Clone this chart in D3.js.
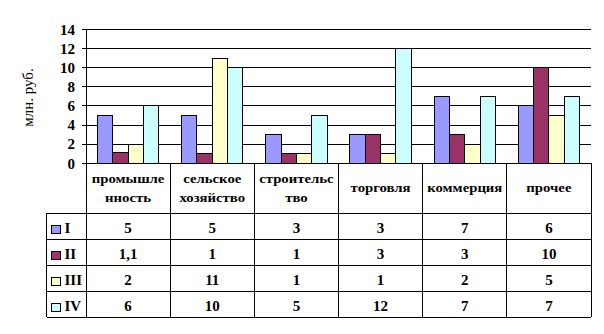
<!DOCTYPE html>
<html><head><meta charset="utf-8">
<script src="https://cdn.jsdelivr.net/npm/d3@7"></script>
<style>
html,body{margin:0;padding:0;background:#fff;}
svg{display:block;font-family:"Liberation Serif","Times New Roman",serif;}
</style></head>
<body>
<svg id="c" width="604" height="334"></svg>
<script>
const categories = ["промышле\nнность","сельское\nхозяйство","строительс\nтво","торговля","коммерция","прочее"];
const seriesNames = ["I","II","III","IV"];
const seriesColors = ["#9999FF","#993366","#FFFFCC","#CCFFFF"];
const valuesI   = [5, 5, 3, 3, 7, 6];
const valuesII  = [1.1, 1, 1, 3, 3, 10];
const valuesIII = [2, 11, 1, 1, 2, 5];
const valuesIV  = [6, 10, 5, 12, 7, 7];
const seriesValues = [valuesI, valuesII, valuesIII, valuesIV];
const yTicks = [0, 2, 4, 6, 8, 10, 12, 14];
const yTitle = "млн. руб.";

const FF = "Liberation Serif";
const svg = d3.select("#c");
const L = 86, R = 591, T = 29.3, B = 163.3;
const legL = 46.7, headB = 213.3, rowH = 26;

const x0 = d3.scaleBand().domain(d3.range(categories.length)).range([L, R]).padding(0);
const bw = x0.bandwidth();
const w = bw / 5.5;
const x1 = d3.scaleBand().domain(d3.range(seriesNames.length)).range([0.75*w, bw - 0.75*w]).padding(0);
const y = d3.scaleLinear().domain([0, 14]).range([B, T]);

// gridlines
const g = svg.append("g").attr("shape-rendering","crispEdges");
g.selectAll("line.grid").data(yTicks).join("line")
  .attr("x1", L-4).attr("x2", R).attr("y1", d=>y(d)).attr("y2", d=>y(d))
  .attr("stroke","#000").attr("stroke-width",1);

// bars
const fmt = v => String(v).replace(".", ",");
seriesNames.forEach((s, si) => {
  g.selectAll("rect.s"+si).data(seriesValues[si]).join("rect")
    .attr("x", (d,i) => x0(i) + x1(si))
    .attr("y", d => y(d))
    .attr("width", x1.bandwidth())
    .attr("height", d => y(0) - y(d))
    .attr("fill", seriesColors[si])
    .attr("stroke","#000").attr("stroke-width",1);
});

// y axis
const ya = d3.axisLeft(y).tickValues(yTicks).tickSize(4).tickPadding(7);
const yg = svg.append("g").attr("transform",`translate(${L},0)`).call(ya)
  .attr("font-family", FF).attr("font-size", 15);
yg.select(".domain").attr("stroke","#000").attr("shape-rendering","crispEdges");
yg.selectAll(".tick line").remove();
yg.selectAll("text").attr("font-family", FF)
  .attr("font-size",15).attr("font-weight","bold").attr("fill","#000");

svg.append("text")
  .attr("transform",`translate(32.5,97.5) rotate(-90)`)
  .attr("text-anchor","middle").attr("font-family", FF).attr("font-size",15).attr("fill","#000")
  .text(yTitle);

// table
const tbl = svg.append("g").attr("shape-rendering","crispEdges").attr("stroke","#000").attr("stroke-width",1);
const tableB = headB + rowH*seriesNames.length;
[headB, ...seriesNames.map((s,i)=>headB+rowH*(i+1))].forEach(yy => {
  tbl.append("line").attr("x1",legL).attr("x2",R).attr("y1",yy).attr("y2",yy);
});
tbl.append("line").attr("x1",legL).attr("x2",legL).attr("y1",headB).attr("y2",tableB);
d3.range(categories.length+1).forEach(i => {
  const xx = i < categories.length ? x0(i) : R;
  tbl.append("line").attr("x1",xx).attr("x2",xx).attr("y1",B).attr("y2",tableB);
});

// header labels
categories.forEach((c, i) => {
  const lines = c.split("\n");
  const cx = x0(i) + bw/2;
  const midY = (B + headB)/2;
  lines.forEach((ln, li) => {
    const yy = midY + (li - (lines.length-1)/2) * 19.3 + 4;
    svg.append("text")
      .attr("transform",`translate(${cx},${yy}) scale(1.23,1)`)
      .attr("text-anchor","middle").attr("font-family", FF).attr("font-size",12).attr("font-weight","bold")
      .attr("fill","#000").text(ln);
  });
});

// rows
seriesNames.forEach((s, si) => {
  const top = headB + rowH*si;
  const bot = top + rowH;
  svg.append("rect").attr("x",51).attr("y",top+12).attr("width",9).attr("height",8.5)
    .attr("fill",seriesColors[si]).attr("stroke","#000").attr("stroke-width",1)
    .attr("shape-rendering","crispEdges");
  svg.append("text").attr("x",64.5).attr("y",bot-6).attr("font-family", FF).attr("font-size",15)
    .attr("font-weight","bold").attr("fill","#000").text(s);
  seriesValues[si].forEach((v, i) => {
    svg.append("text").attr("x", x0(i)+bw/2).attr("y", bot-6)
      .attr("text-anchor","middle").attr("font-family", FF).attr("font-size",15).attr("font-weight","bold")
      .attr("fill","#000").text(fmt(v));
  });
});
</script>
</body></html>
